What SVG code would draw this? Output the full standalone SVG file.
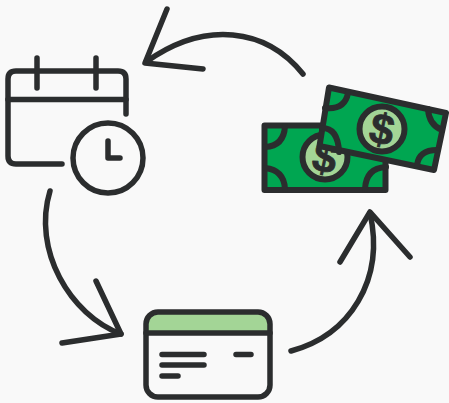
<svg xmlns="http://www.w3.org/2000/svg" width="449" height="403" viewBox="0 0 449 403">
<style>
.s{fill:none;stroke:#2b2d2e;stroke-width:5.5;stroke-linecap:round;stroke-linejoin:round}
.m{fill:none;stroke:#2b2d2e;stroke-width:6;stroke-linecap:round;stroke-linejoin:round}
.g{fill:#00a651;stroke:#2b2d2e;stroke-width:6;stroke-linejoin:round}
.l{fill:#a3d596;stroke:#2b2d2e;stroke-width:6}
.t{font-family:"Liberation Sans",Arial,sans-serif;font-size:43px;font-weight:700;text-anchor:middle;fill:#2b2d2e;stroke:#2b2d2e;stroke-width:.8;stroke-linejoin:round}
</style>
<rect width="449" height="403" fill="#f9f9f9"/>
<g id="connectors">
<path class="s" d="M303 74C266 28 205 20 146 62"/>
<path class="s" d="M167 9L145 63L203 69"/>
<path class="s" d="M50 191C32 250 70 315 121 334"/>
<path class="s" d="M96 281L121 334L62 343"/>
<path class="s" d="M291 351C350 335 385 280 370 213"/>
<path class="s" d="M340 262L370 212L410 257"/>
</g>
<g id="calendar">
<path class="s" d="M62 164H16Q8 164 8 156V79Q8 71 16 71H118Q126 71 126 79V114"/>
<path class="s" d="M8 99.500H126M37 58V88M96 58V88"/>
<circle class="s" cx="108" cy="158" r="35"/>
<path class="s" d="M108 141V158H120"/>
</g>
<g id="card">
<path d="M146 333V324Q146 312 158 312H258Q270 312 270 324V333Z" fill="#a3d596"/>
<rect class="s" x="146" y="312" width="124" height="85" rx="12"/>
<path class="s" d="M146 333H270M162 354.500H204M236 354.500H251M162 365H204M162 376H178"/>
</g>
<g id="money">
<rect class="g" x="264.500" y="125.500" width="121" height="64.500"/>
<circle class="l" cx="325" cy="157" r="22.500"/>
<path class="m" d="M265 147Q284 146 285 126M265 168Q284 170 285 189M386 167Q366 168 365 189"/>
<text class="t" x="325" y="172" transform="rotate(12 325 157)">$</text>
<polygon class="g" points="329,87.500 446,113 434,170 319.500,146"/>
<circle class="l" cx="382" cy="129" r="22.500"/>
<path class="m" d="M325 108Q345 110 348 93M428 109Q429 125 442 130M417 165Q419 150 437 150M322 128Q338 128 339 152"/>
<text class="t" x="382" y="144" transform="rotate(12 382 129)">$</text>
</g>
</svg>
